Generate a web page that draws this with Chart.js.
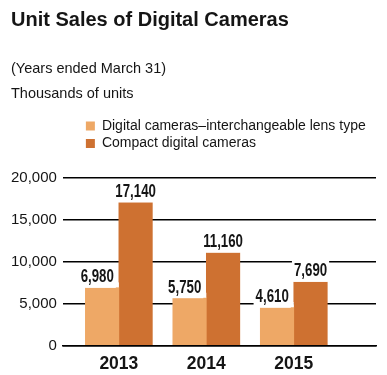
<!DOCTYPE html>
<html>
<head>
<meta charset="utf-8">
<script src="https://cdn.jsdelivr.net/npm/chart.js@4"></script>
<style>
  html, body { margin: 0; padding: 0; background: #ffffff; }
  canvas { display: block; }
</style>
</head>
<body>
<canvas id="chart" width="387" height="375"></canvas>
<script>
// ---- data ----
const titleText = 'Unit Sales of Digital Cameras';
const subtitleLines = ['(Years ended March 31)', 'Thousands of units'];
const years = ['2013', '2014', '2015'];
const seriesNames = ['Digital cameras\u2013interchangeable lens type', 'Compact digital cameras'];
const interchangeableLens = [6980, 5750, 4610];
const compactCameras = [17140, 11160, 7690];
const yTickValues = [0, 5000, 10000, 15000, 20000];

// ---- styling ----
const seriesColors = ['#EEA866', '#CE7131'];
const ink = '#151515';
const sans = "'Liberation Sans', Arial, sans-serif";

// moves the legend block under the title and leaves room below it
const legendPlacement = {
  id: 'legendPlacement',
  beforeLayout(chart, args, opts) {
    const lg = chart.legend;
    if (lg && !lg._gapPatched) {
      const fit = lg.fit;
      lg.fit = function () { fit.call(this); this.height += opts.bottomGap; };
      lg._gapPatched = true;
    }
  },
  afterLayout(chart, args, opts) {
    const lg = chart.legend;
    if (lg) { lg.left += opts.indent; lg.right += opts.indent; }
  }
};

// value labels above bars (condensed bold), with a white knockout behind them
const barValueLabels = {
  id: 'barValueLabels',
  afterDatasetsDraw(chart, args, opts) {
    const ctx = chart.ctx;
    ctx.save();
    ctx.font = 'bold ' + opts.size + 'px ' + opts.family;
    ctx.textAlign = 'left';
    ctx.textBaseline = 'alphabetic';
    chart.data.datasets.forEach((ds, di) => {
      const meta = chart.getDatasetMeta(di);
      if (meta.hidden) return;
      meta.data.forEach((bar, i) => {
        const text = Number(ds.data[i]).toLocaleString('en-US');
        const m = ctx.measureText(text);
        const w = m.width * opts.condense;
        const asc = m.actualBoundingBoxAscent;
        const desc = m.actualBoundingBoxDescent;
        const half = bar.width / 2;
        const baseY = bar.y - opts.gap;
        const tx = opts.align[di] === 'end' ? bar.x + half - opts.inset - w : bar.x - w / 2;
        ctx.fillStyle = '#ffffff';
        ctx.fillRect(tx - 2, baseY - asc - 2.5, w + 4, asc + desc + 5);
        ctx.fillRect(bar.x - half, baseY, bar.width, opts.gap);
        ctx.save();
        ctx.translate(tx, baseY);
        ctx.scale(opts.condense, 1);
        ctx.fillStyle = opts.color;
        ctx.fillText(text, 0, 0);
        ctx.restore();
      });
    });
    ctx.restore();
  }
};

new Chart(document.getElementById('chart'), {
  type: 'bar',
  data: {
    labels: years,
    datasets: [
      { label: seriesNames[0], data: interchangeableLens, backgroundColor: seriesColors[0], borderWidth: 0 },
      { label: seriesNames[1], data: compactCameras, backgroundColor: seriesColors[1], borderWidth: 0 }
    ]
  },
  options: {
    responsive: false,
    animation: false,
    barThickness: 33.5,
    layout: { padding: { top: 0, left: 11, right: 11, bottom: 0 } },
    scales: {
      x: {
        type: 'linear',
        min: 2012.36,
        max: 2015.94,
        offset: false,
        grid: { display: false, drawTicks: false, offset: false },
        border: { display: true, color: '#000000', width: 1.5, z: 1 },
        afterBuildTicks: (scale) => { scale.ticks = years.map(y => ({ value: Number(y) })); },
        afterFit: (scale) => { scale.height -= scale.options.ticks.padding; },
        ticks: {
          autoSkip: false,
          maxRotation: 0,
          padding: 8,
          color: ink,
          font: { family: sans, size: 17.5, weight: 'bold' },
          callback: (v, i) => years[i]
        }
      },
      y: {
        min: 0,
        max: 20000,
        grid: { color: '#000000', lineWidth: 1.4, drawTicks: false },
        border: { display: false },
        afterBuildTicks: (scale) => { scale.ticks = yTickValues.map(v => ({ value: v })); },
        afterFit: (scale) => { scale.width -= scale.options.ticks.padding; },
        ticks: {
          padding: 6,
          color: ink,
          font: { family: sans, size: 15 },
          callback: (v) => Number(v).toLocaleString('en-US')
        }
      }
    },
    plugins: {
      title: {
        display: true,
        text: titleText,
        align: 'start',
        color: ink,
        padding: { top: 8.5, bottom: 0 },
        font: { family: sans, size: 20, weight: 'bold', lineHeight: 1.2 }
      },
      subtitle: {
        display: true,
        text: subtitleLines,
        align: 'start',
        color: ink,
        padding: { top: 24, bottom: 9 },
        font: { family: sans, size: 14.5, lineHeight: '25px' }
      },
      legend: {
        display: true,
        position: 'top',
        align: 'start',
        fullSize: false,
        labels: {
          boxWidth: 9,
          boxHeight: 9,
          padding: 3.5,
          color: ink,
          font: { family: sans, size: 14 }
        }
      },
      tooltip: { enabled: false },
      legendPlacement: { indent: 19.5, bottomGap: 17.5 },
      barValueLabels: {
        family: sans,
        size: 17.7,
        condense: 0.75,
        color: ink,
        gap: 5,
        inset: 5,
        align: ['end', 'center']
      }
    }
  },
  plugins: [legendPlacement, barValueLabels]
});
</script>
</body>
</html>
